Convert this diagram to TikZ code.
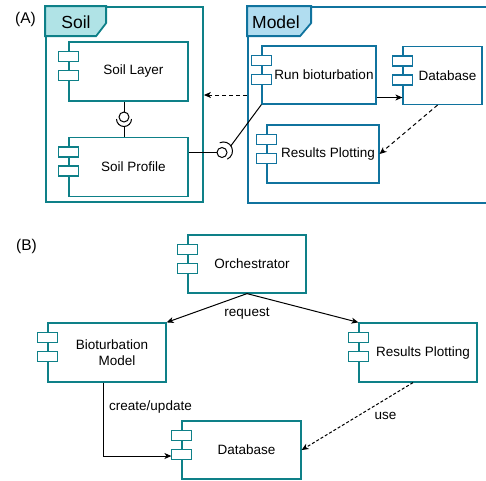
\documentclass[tikz,border=0pt]{standalone}
\usepackage{fontspec}
\setmainfont{Liberation Sans}
\usetikzlibrary{arrows.meta,positioning,calc}
\definecolor{soilteal}{HTML}{0E8088}
\definecolor{soilfill}{HTML}{B0E3E6}
\definecolor{modelblue}{HTML}{10739E}
\definecolor{modelfill}{HTML}{B1DDF0}
\tikzset{
  port/.style={draw=#1,line width=1.2pt,fill=white,minimum width=20,
    minimum height=10,inner sep=0pt},
  compbox/.style={draw=#1,line width=1.2pt,fill=white,inner sep=0pt,
    minimum width=118,minimum height=58,font=\fontsize{13.5}{16}\selectfont,
    execute at begin node={\hspace*{10pt}},
    append after command={\pgfextra{\let\compnode\tikzlastnode}
      node[port=#1] at ($(\compnode.north west)+(0,15)$) {}
      node[port=#1] at ($(\compnode.north west)+(0,34)$) {}}},
  compbox/.default=soilteal,
  pkgframe/.style={draw=#1,line width=1.8pt,inner sep=0pt},
  tabtext/.style={font=\fontsize{17.5}{20}\selectfont,inner sep=0pt},
  panellabel/.style={font=\fontsize{15.5}{18}\selectfont,inner sep=0pt},
  edgelabel/.style={font=\fontsize{13.5}{16}\selectfont,inner sep=0pt},
  ball/.style={circle,draw,line width=1pt,fill=white,minimum size=10,inner sep=0pt},
  wire/.style={line width=1pt},
  flowarrow/.style={line width=1pt,-{Stealth[length=7pt,width=6pt,inset=2pt]}},
  dasharrow/.style={flowarrow,dash pattern=on 4pt off 3pt}
}
\begin{document}
\begin{tikzpicture}[x=1pt,y=-1pt]
  \useasboundingbox (0,0) rectangle (486,480);
  \clip (0,0) rectangle (486,480);
  % (A) packages
  \node[panellabel] (labA) at (25.5,19) {(A)};
  \node[pkgframe=soilteal,minimum width=157,minimum height=195] (soilpkg) at (124.5,104.5) {};
  \node[pkgframe=modelblue,minimum width=244,minimum height=196] (modelpkg) at (370,105) {};
  \filldraw[draw=soilteal,fill=soilfill,line width=1.8pt]
    (soilpkg.north west) -- ++(61,0) -- ++(0,17) -- ++(-10,13) -- ++(-51,0) -- cycle;
  \filldraw[draw=modelblue,fill=modelfill,line width=1.8pt]
    (modelpkg.north west) -- ++(64,0) -- ++(0,17) -- ++(-11,13) -- ++(-53,0) -- cycle;
  \node[tabtext] (soiltitle) at (76,22) {Soil};
  \node[tabtext] (modeltitle) at (276,22) {Model};
  % components
  \node[compbox,minimum width=119,minimum height=59] (soillayer) at (128.5,71.5) {Soil Layer};
  \node[compbox,minimum width=119,minimum height=59] (soilprofile) at (128.5,167) {Soil Profile};
  \node[compbox=modelblue,minimum width=114] (runbio) at (319,75) {Run bioturbation};
  \node[compbox=modelblue,minimum width=79] (dbA) at (442.5,75.5) {Database};
  \node[compbox=modelblue,minimum width=112] (plotA) at (323,154) {Results Plotting};
  % interfaces
  \node[ball] (ballV) at (124,117) {};
  \node[ball] (ballH) at (222,152.5) {};
  \draw[wire] (ballV.north) -- (ballV.north |- soillayer.south);
  \draw[wire] ($(ballV)+(-7.5,2)$) arc[start angle=180,end angle=0,radius=7.5];
  \draw[wire] ($(ballV)+(0,9.5)$) -- (ballV |- soilprofile.north);
  \draw[wire] (soilprofile.east |- ballH) -- (ballH.west);
  \draw[wire] ($(ballH)+(-2.3,-9.7)$) arc[start angle=-115,end angle=65,radius=9];
  \draw[wire] ($(ballH)+(8.9,-6.7)$) -- (runbio.south west);
  \draw[flowarrow] ($(runbio.east)+(0,22.5)$) -- ($(dbA.west)+(0,22)$);
  \draw[dasharrow] ($(dbA.south)+(-5,0)$) -- (plotA.east);
  \draw[dasharrow] ($(modelpkg.west)+(0,-10)$) -- ($(soilpkg.east)+(0,-9.5)$);
  % (B)
  \node[panellabel] (labB) at (26.5,246) {(B)};
  \node[compbox] (orch) at (247,264) {Orchestrator};
  \node[compbox,minimum height=59,align=center] (bioB) at (107,352.5) {Bioturbation\\\hspace*{10pt}Model};
  \node[compbox,minimum height=59] (plotB) at (418,352.5) {Results Plotting};
  \node[compbox,minimum width=119] (dbB) at (241.5,450) {Database};
  \draw[flowarrow] (orch.south) -- (bioB.north east);
  \draw[flowarrow] (orch.south) -- (plotB.north west);
  \node[edgelabel] (reqlabel) at (247,314) {request};
  \draw[flowarrow] ($(bioB.south)+(-4,0)$) |- ($(dbB.west)+(-10,6)$);
  \node[edgelabel] (cuplabel) at (150.5,407) {create/update};
  \draw[dasharrow,dash pattern=on 3pt off 2pt] ($(plotB.south)+(-5,0)$) -- (dbB.east);
  \node[edgelabel] (uselabel) at (385.5,416) {use};
\end{tikzpicture}
\end{document}
